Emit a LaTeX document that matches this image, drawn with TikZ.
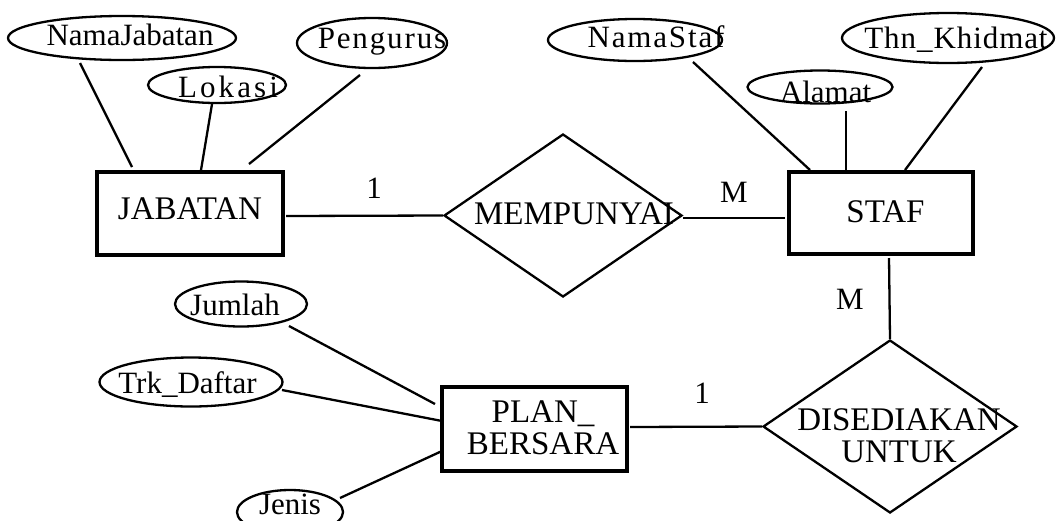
\documentclass[tikz,border=0pt]{standalone}
\usepackage{fontspec}
\setmainfont{Liberation Serif}
\newfontfamily\wideA[LetterSpace=10]{Liberation Serif}
\newfontfamily\wideB[LetterSpace=6]{Liberation Serif}
\newfontfamily\wideC[LetterSpace=3]{Liberation Serif}
\usetikzlibrary{shapes.geometric}
% text shifted right by #1, baseline raised by #2 relative to node centre
\newcommand{\ctext}[3]{\makebox[0pt]{\hspace*{#1}\hspace*{#1}\smash{\raisebox{#2}{#3}}}}
\begin{document}
\begin{tikzpicture}[x=1pt,y=-1pt,
  ent/.style={draw,line width=3.2pt,rectangle,inner sep=0pt,font=\fontsize{33}{32}\selectfont},
  rel/.style={draw,line width=2.3pt,diamond,inner sep=0pt,font=\fontsize{33}{32}\selectfont},
  attr/.style={draw,line width=2.3pt,ellipse,inner sep=0pt,font=\fontsize{31}{32}\selectfont},
  conn/.style={line width=2.3pt},
  card/.style={inner sep=0pt,font=\fontsize{31}{32}\selectfont}]
\useasboundingbox (0,0) rectangle (1056,520);

% entities
\node[ent,minimum width=186pt,minimum height=83pt] (jab) at (190,213.5) {\ctext{0pt}{-5.5pt}{JABATAN}};
\node[ent,minimum width=184pt,minimum height=82pt] (staf) at (881,213) {\ctext{4.5pt}{-9pt}{STAF}};
\node[ent,minimum width=185pt,minimum height=84pt] (plan) at (534.5,429) {\ctext{8.5pt}{7pt}{\begin{tabular}[t]{@{}c@{}}PLAN\_\\BERSARA\end{tabular}}};

% relationships
\node[rel,minimum width=238pt,minimum height=163pt] (memp) at (563,215.5) {\ctext{11pt}{-8.5pt}{MEMPUNYAI}};
\node[rel,minimum width=254pt,minimum height=173pt] (dis) at (890,426.5) {\ctext{9pt}{-3.5pt}{\begin{tabular}[t]{@{}c@{}}DISEDIAKAN\\UNTUK\end{tabular}}};

% attributes
\node[attr,minimum width=228pt,minimum height=44pt] (nj) at (122,38) {\ctext{8pt}{-7pt}{NamaJabatan}};
\node[attr,minimum width=138pt,minimum height=36pt] (lok) at (217,85) {\ctext{11pt}{-12pt}{\wideA Lokasi}};
\node[attr,minimum width=150pt,minimum height=50pt] (peng) at (372,43) {\ctext{10pt}{-5pt}{\wideB Pengurus}};
\node[attr,minimum width=174pt,minimum height=42pt] (nstaf) at (635,40) {\ctext{21pt}{-7pt}{\wideB NamaStaf}};
\node[attr,minimum width=145pt,minimum height=33pt] (alamat) at (820,87) {\ctext{5.5pt}{-15pt}{Alamat}};
\node[attr,minimum width=212pt,minimum height=50pt] (thn) at (948,38) {\ctext{8pt}{-10pt}{\wideC Thn\_Khidmat}};
\node[attr,minimum width=132pt,minimum height=45pt] (jum) at (241,304) {\ctext{-6pt}{-11pt}{Jumlah}};
\node[attr,minimum width=183pt,minimum height=49pt] (trk) at (191,382) {\ctext{-3.5pt}{-11pt}{Trk\_Daftar}};
\node[attr,minimum width=106pt,minimum height=44pt] (jenis) at (290,512) {\ctext{0pt}{-2pt}{Jenis}};

% attribute connectors
\draw[conn] ([shift={(-42,25)}]nj.center) -- ([shift={(-58,-46.5)}]jab.center);
\draw[conn] ([shift={(-5,19)}]lok.center) -- ([shift={(11,-43.5)}]jab.center);
\draw[conn] ([shift={(-12,32)}]peng.center) -- ([shift={(59,-49.5)}]jab.center);
\draw[conn] ([shift={(58,22)}]nstaf.center) -- ([shift={(-71,-43)}]staf.center);
\draw[conn] ([shift={(26,24)}]alamat.center) -- ([shift={(-35,-41)}]staf.center);
\draw[conn] ([shift={(34,29)}]thn.center) -- ([shift={(24,-43)}]staf.center);
\draw[conn] ([shift={(48,22)}]jum.center) -- ([shift={(-99.5,-25)}]plan.center);
\draw[conn] ([shift={(91,8)}]trk.center) -- ([shift={(-92.5,-8)}]plan.center);
\draw[conn] ([shift={(50,-14)}]jenis.center) -- ([shift={(-92.5,22)}]plan.center);

% relationship connectors
\draw[conn] ([shift={(96,2.5)}]jab.center) -- (memp.west);
\draw[conn] ([shift={(0,2.5)}]memp.east) -- ([shift={(-96,5)}]staf.center);
\draw[conn] ([shift={(8,45)}]staf.center) -- (dis.north);
\draw[conn] ([shift={(95.5,-2)}]plan.center) -- (dis.west);

% cardinalities
\node[card] (c1) at (374,188) {1};
\node[card] (c2) at (734,192) {M};
\node[card] (c3) at (850,299) {M};
\node[card] (c4) at (702,393) {1};
\end{tikzpicture}
\end{document}
